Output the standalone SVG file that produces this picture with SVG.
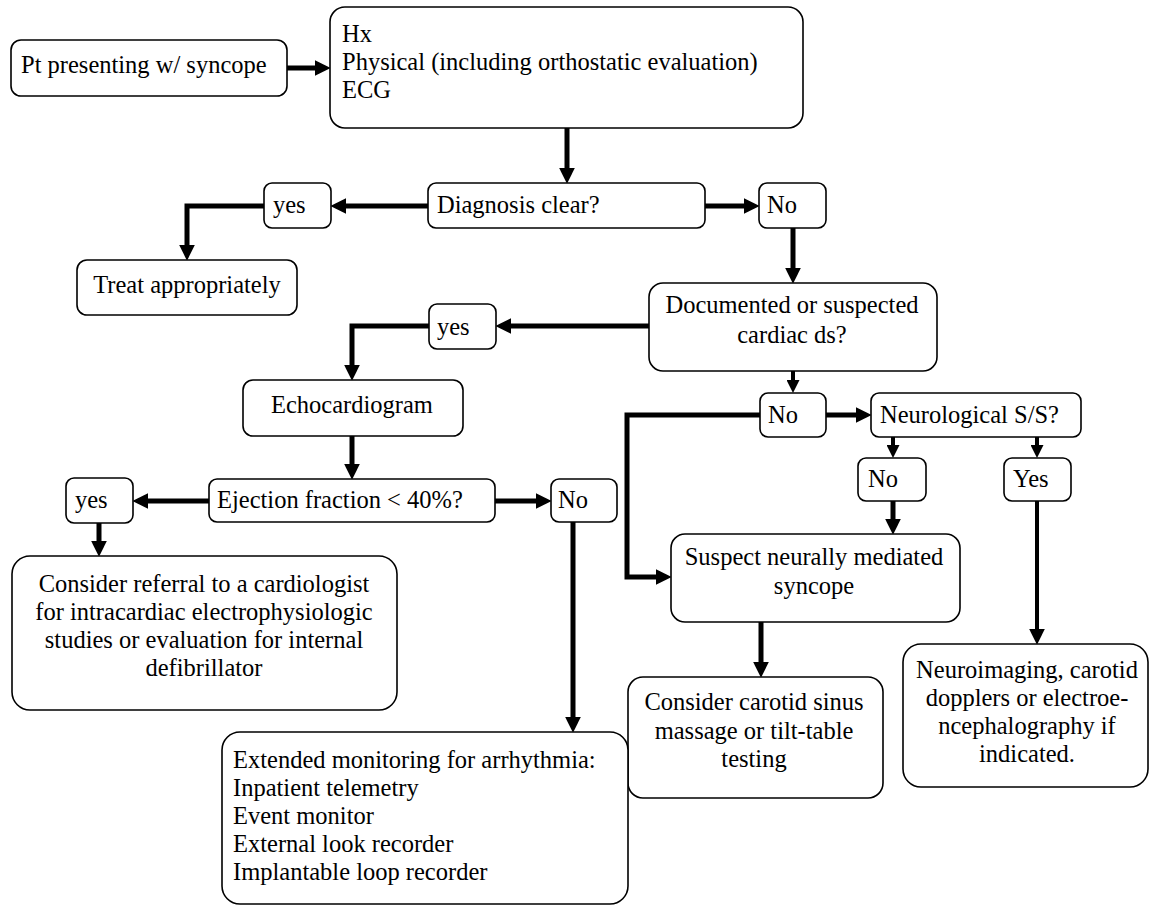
<svg xmlns="http://www.w3.org/2000/svg" width="1151" height="906" viewBox="0 0 1151 906">
<style>
.box{fill:#fff;stroke:#000;stroke-width:1.6}
.t{font-family:"Liberation Serif","Times New Roman",serif;font-size:24.5px;fill:#000}
.c{text-anchor:middle}
.ln{fill:none;stroke:#000;stroke-width:5;stroke-linejoin:miter;stroke-linecap:butt}
.thin{stroke-width:4}
</style>
<defs>
<marker id="ah" markerUnits="userSpaceOnUse" markerWidth="16" markerHeight="16" viewBox="0 0 15 15" refX="5" refY="7.5" orient="auto">
<path d="M0,0 L15,7.5 L0,15 z" fill="#000"/>
</marker>
<marker id="ahs" markerUnits="userSpaceOnUse" markerWidth="13" markerHeight="13" viewBox="0 0 13 13" refX="4" refY="6.5" orient="auto">
<path d="M0,0 L13,6.5 L0,13 z" fill="#000"/>
</marker>
</defs>
<rect width="1151" height="906" fill="#fff"/>
<g id="connectors">
<path class="ln" d="M287,68 H320" marker-end="url(#ah)"/>
<path class="ln" d="M567,128 V173" marker-end="url(#ah)"/>
<path class="ln" d="M705,206 H749" marker-end="url(#ah)"/>
<path class="ln" d="M428,206 H341" marker-end="url(#ah)"/>
<path class="ln" d="M264,206 H187 V250" marker-end="url(#ah)"/>
<path class="ln" d="M793,228 V273" marker-end="url(#ah)"/>
<path class="ln" d="M649,326 H506" marker-end="url(#ah)"/>
<path class="ln" d="M429,326 H352 V370" marker-end="url(#ah)"/>
<path class="ln" d="M352,436 V469" marker-end="url(#ah)"/>
<path class="ln" d="M209,501 H143" marker-end="url(#ah)"/>
<path class="ln" d="M99,523 V546" marker-end="url(#ah)"/>
<path class="ln" d="M495,501 H541" marker-end="url(#ah)"/>
<path class="ln" d="M573,522 V722" marker-end="url(#ah)"/>
<path class="ln thin" d="M793,371 V384" marker-end="url(#ahs)"/>
<path class="ln" d="M826,415 H861" marker-end="url(#ah)"/>
<path class="ln" d="M760,415 H627 V577 H661" marker-end="url(#ah)"/>
<path class="ln thin" d="M893,437 V449" marker-end="url(#ahs)"/>
<path class="ln thin" d="M1037,437 V449" marker-end="url(#ahs)"/>
<path class="ln" d="M893,501 V524" marker-end="url(#ah)"/>
<path class="ln thin" d="M1037,501 V634" marker-end="url(#ah)"/>
<path class="ln" d="M761,622 V667" marker-end="url(#ah)"/>
</g>
<g id="start"><rect class="box" x="11" y="40" width="276" height="56" rx="10"/><text class="t" x="21" y="73">Pt presenting w/ syncope</text></g>
<g id="workup"><rect class="box" x="330" y="7" width="473" height="121" rx="15"/><text class="t" x="342" y="42">Hx</text><text class="t" x="342" y="70">Physical (including orthostatic evaluation)</text><text class="t" x="342" y="98">ECG</text></g>
<g id="diagnosis"><rect class="box" x="428" y="183" width="277" height="45" rx="8"/><text class="t" x="437" y="213">Diagnosis clear?</text></g>
<g id="no1"><rect class="box" x="759" y="183" width="67" height="45" rx="8"/><text class="t" x="767" y="213">No</text></g>
<g id="yes1"><rect class="box" x="264" y="183" width="67" height="45" rx="8"/><text class="t" x="273" y="213">yes</text></g>
<g id="treat"><rect class="box" x="77" y="260" width="220" height="55" rx="10"/><text class="t c" x="187" y="293">Treat appropriately</text></g>
<g id="cardiac"><rect class="box" x="649" y="283" width="288" height="88" rx="14"/><text class="t c" x="792" y="313">Documented or suspected</text><text class="t c" x="792" y="343">cardiac ds?</text></g>
<g id="yes2"><rect class="box" x="429" y="304" width="67" height="45" rx="8"/><text class="t" x="437" y="335">yes</text></g>
<g id="echo"><rect class="box" x="243" y="380" width="220" height="56" rx="10"/><text class="t" x="271" y="413">Echocardiogram</text></g>
<g id="ejection"><rect class="box" x="209" y="479" width="286" height="43" rx="8"/><text class="t" x="217" y="508">Ejection fraction &lt; 40%?</text></g>
<g id="yes3"><rect class="box" x="66" y="478" width="67" height="45" rx="8"/><text class="t" x="75" y="508">yes</text></g>
<g id="no4"><rect class="box" x="551" y="479" width="66" height="43" rx="8"/><text class="t" x="558" y="508">No</text></g>
<g id="referral"><rect class="box" x="12" y="556" width="385" height="154" rx="18"/><text class="t c" x="204" y="592">Consider referral to a cardiologist</text><text class="t c" x="204" y="620">for intracardiac electrophysiologic</text><text class="t c" x="204" y="648">studies or evaluation for internal</text><text class="t c" x="204" y="676">defibrillator</text></g>
<g id="no2"><rect class="box" x="760" y="393" width="66" height="44" rx="8"/><text class="t" x="768" y="423">No</text></g>
<g id="neuro"><rect class="box" x="871" y="393" width="210" height="44" rx="8"/><text class="t" x="880" y="423">Neurological S/S?</text></g>
<g id="no3"><rect class="box" x="858" y="458" width="68" height="43" rx="8"/><text class="t" x="868" y="487">No</text></g>
<g id="yes4"><rect class="box" x="1004" y="458" width="67" height="43" rx="8"/><text class="t" x="1013" y="487">Yes</text></g>
<g id="suspect"><rect class="box" x="671" y="534" width="289" height="88" rx="14"/><text class="t c" x="814" y="565">Suspect neurally mediated</text><text class="t c" x="814" y="594">syncope</text></g>
<g id="carotid"><rect class="box" x="628" y="677" width="255" height="121" rx="15"/><text class="t c" x="754" y="710">Consider carotid sinus</text><text class="t c" x="754" y="739">massage or tilt-table</text><text class="t c" x="754" y="767">testing</text></g>
<g id="neuroimaging"><rect class="box" x="903" y="644" width="245" height="143" rx="18"/><text class="t c" x="1027" y="678">Neuroimaging, carotid</text><text class="t c" x="1027" y="706">dopplers or electroe-</text><text class="t c" x="1027" y="734">ncephalography if</text><text class="t c" x="1027" y="762">indicated.</text></g>
<g id="extended"><rect class="box" x="222" y="732" width="406" height="172" rx="18"/><text class="t" x="233" y="768">Extended monitoring for arrhythmia:</text><text class="t" x="233" y="796">Inpatient telemetry</text><text class="t" x="233" y="824">Event monitor</text><text class="t" x="233" y="852">External look recorder</text><text class="t" x="233" y="880">Implantable loop recorder</text></g>
</svg>
